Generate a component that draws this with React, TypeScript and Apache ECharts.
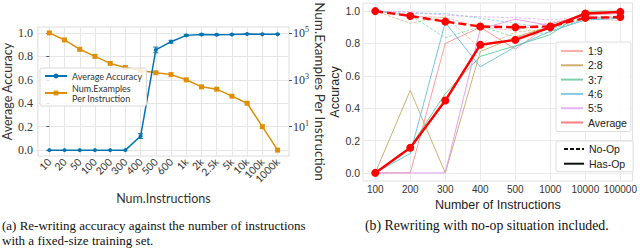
import React, { useEffect, useRef } from "react";
import * as echarts from "echarts";

// ---------- Panel (a) data ----------
const leftCategories = ["10", "20", "50", "100", "200", "300", "400", "500", "600", "1k", "2k", "2.5k", "5k", "10k", "100k", "1000k"];
const avgAccuracy = [0, 0, 0, 0, 0, 0, 0.12, 0.855, 0.925, 0.979, 0.987, 0.984, 0.987, 0.991, 0.989, 0.989];
const avgAccuracyErr = [0, 0, 0, 0, 0, 0, 0.02, 0.024, 0.012, 0.006, 0.004, 0.005, 0.003, 0.003, 0.002, 0.002];
const examplesPerInstruction = [100000, 50000, 20000, 10000, 5000, 3333, 2500, 2000, 1667, 1000, 500, 400, 200, 100, 10, 1];
const accTicks = [0, 0.2, 0.4, 0.6, 0.8, 1.0];
const logTicks = [10, 1000, 100000];

// ---------- Panel (b) data ----------
const rightCategories = ["100", "200", "300", "400", "500", "1000", "10000", "100000"];
const ratioNames = ["1:9", "2:8", "3:7", "4:6", "5:5"];
const hasOp19 = [0, 0, 0.8, 0.9, 0.765, 0.92, 0.975, 0.985];
const hasOp28 = [0, 0.51, 0, 0.75, 0.84, 0.905, 0.99, 0.995];
const hasOp37 = [0, 0.16, 0.49, 0.72, 0.785, 0.855, 1.0, 1.0];
const hasOp46 = [0, 0.12, 0.93, 0.655, 0.78, 0.875, 0.945, 0.955];
const hasOp55 = [0, 0, 0, 0.89, 0.95, 0.91, 0.98, 0.99];
const hasOpAverage = [0, 0.155, 0.447, 0.792, 0.822, 0.9, 0.985, 0.995];
const noOp19 = [1.0, 0.97, 0.96, 0.9, 0.88, 0.93, 0.96, 0.94];
const noOp28 = [1.0, 0.925, 0.965, 0.77, 0.87, 0.89, 0.96, 0.96];
const noOp37 = [1.0, 0.975, 0.835, 0.905, 0.84, 0.87, 0.955, 0.965];
const noOp46 = [1.0, 0.985, 0.985, 0.955, 0.925, 0.89, 0.945, 0.965];
const noOp55 = [1.0, 0.995, 0.975, 0.965, 0.96, 0.945, 0.965, 0.97];
const noOpAverage = [1.0, 0.97, 0.935, 0.905, 0.9, 0.905, 0.958, 0.963];

const ratioColors = ["#ff8c8c", "#c4a45c", "#5cc493", "#5cbcd8", "#dc92f2"];
const ratioLegendColors = ["rgba(255,120,120,0.6)", "rgba(190,155,70,0.8)", "rgba(70,190,135,0.7)", "rgba(80,180,215,0.7)", "rgba(215,130,240,0.6)"];

const BLUE = "#0173b2";
const ORANGE = "#de8f05";
const SERIF = "'Liberation Serif', 'DejaVu Serif', serif";
const SANS_A = "Lato, 'DejaVu Sans', sans-serif";
const SANS_B = "'Liberation Sans', Arial, sans-serif";

export default function App() {
  const ref = useRef<HTMLDivElement>(null);

  useEffect(() => {
    document.body.style.margin = "0";
    const chart = echarts.init(ref.current!, null, { renderer: "svg" });

    const hasOps = [hasOp19, hasOp28, hasOp37, hasOp46, hasOp55];
    const noOps = [noOp19, noOp28, noOp37, noOp46, noOp55];
    const toXY = (arr: number[]) => arr.map((v, i) => [i, v]);

    const series: any[] = [
      // legend-only handles for panel (b)
      ...ratioNames.map((n, i) => ({
        type: "line", name: n, xAxisIndex: 1, yAxisIndex: 2, data: [], symbol: "none",
        lineStyle: { color: ratioLegendColors[i], width: 2 }, itemStyle: { color: ratioLegendColors[i] },
      })),
      {
        type: "line", name: "Average", xAxisIndex: 1, yAxisIndex: 2, data: [], symbol: "none",
        lineStyle: { color: "rgba(255,60,60,0.65)", width: 2 }, itemStyle: { color: "rgba(255,60,60,0.65)" },
      },
      {
        type: "line", name: "No-Op", xAxisIndex: 1, yAxisIndex: 2, data: [], symbol: "none",
        lineStyle: { color: "#111", width: 1.6, type: [4, 2] }, itemStyle: { color: "#111" },
      },
      {
        type: "line", name: "Has-Op", xAxisIndex: 1, yAxisIndex: 2, data: [], symbol: "none",
        lineStyle: { color: "#111", width: 1.6 }, itemStyle: { color: "#111" },
      },
      // panel (a)
      {
        type: "line", name: "Num.Examples\nPer Instruction", xAxisIndex: 0, yAxisIndex: 1,
        data: toXY(examplesPerInstruction), symbol: "rect", symbolSize: 5,
        lineStyle: { color: ORANGE, width: 1.5 }, itemStyle: { color: ORANGE }, z: 2,
      },
      {
        type: "line", name: "Average Accuracy", xAxisIndex: 0, yAxisIndex: 0,
        data: toXY(avgAccuracy), symbol: "circle", symbolSize: 4,
        lineStyle: { color: BLUE, width: 1.5 }, itemStyle: { color: BLUE }, z: 3,
      },
      {
        type: "custom", xAxisIndex: 0, yAxisIndex: 0, z: 4, silent: true,
        data: avgAccuracy.map((v, i) => [i, v, avgAccuracyErr[i]]),
        renderItem: (_p: any, api: any) => {
          const x = api.value(0), y = api.value(1), e = api.value(2);
          if (!e) return null;
          const hi = api.coord([x, y + e]);
          const lo = api.coord([x, y - e]);
          const style = { stroke: BLUE, lineWidth: 1 };
          return {
            type: "group",
            children: [
              { type: "line", shape: { x1: hi[0], y1: hi[1], x2: lo[0], y2: lo[1] }, style },
              { type: "line", shape: { x1: hi[0] - 2.5, y1: hi[1], x2: hi[0] + 2.5, y2: hi[1] }, style },
              { type: "line", shape: { x1: lo[0] - 2.5, y1: lo[1], x2: lo[0] + 2.5, y2: lo[1] }, style },
            ],
          };
        },
      },
      // panel (b) real lines
      ...ratioNames.map((n, i) => ({
        type: "line", name: n + " No-Op", xAxisIndex: 1, yAxisIndex: 2, data: toXY(noOps[i]), symbol: "none",
        lineStyle: { color: ratioColors[i], width: 1, type: [3, 1.5], opacity: 0.6 }, z: 2,
      })),
      ...ratioNames.map((n, i) => ({
        type: "line", name: n + " Has-Op", xAxisIndex: 1, yAxisIndex: 2, data: toXY(hasOps[i]), symbol: "none",
        lineStyle: { color: ratioColors[i], width: 1, opacity: 0.85 }, z: 2,
      })),
      {
        type: "line", name: "Average No-Op", xAxisIndex: 1, yAxisIndex: 2, data: toXY(noOpAverage),
        symbol: "circle", symbolSize: 8, lineStyle: { color: "#ff0000", width: 2.4, type: [8, 4] },
        itemStyle: { color: "#ff0000" }, z: 5,
      },
      {
        type: "line", name: "Average Has-Op", xAxisIndex: 1, yAxisIndex: 2, data: toXY(hasOpAverage),
        symbol: "circle", symbolSize: 8, lineStyle: { color: "#ff0000", width: 2.4 },
        itemStyle: { color: "#ff0000" }, z: 6,
      },
    ];

    const option: any = {
      animation: false,
      backgroundColor: "#ffffff",
      grid: [
        { left: 36, top: 4, width: 253, height: 152, show: true, borderColor: "#dcdcdc", borderWidth: 1, backgroundColor: "transparent" },
        { left: 363, top: 3, width: 271, height: 178, show: true, borderColor: "#e0e0e0", borderWidth: 1, backgroundColor: "transparent" },
      ],
      xAxis: [
        {
          type: "value", gridIndex: 0, min: -0.75, max: 15.75,
          name: "Num.Instructions", nameLocation: "middle", nameGap: 36,
          nameTextStyle: { fontFamily: SANS_A, fontSize: 12.5, color: "#333" },
          axisLine: { show: false },
          axisTick: { show: false, customValues: leftCategories.map((_, i) => i) },
          axisLabel: {
            customValues: leftCategories.map((_, i) => i),
            formatter: (v: number) => leftCategories[Math.round(v)] ?? "",
            showMinLabel: true, showMaxLabel: true, hideOverlap: false,
            rotate: 45, margin: 4, fontFamily: SANS_A, fontSize: 10.3, color: "#333",
          },
          splitLine: { show: true, lineStyle: { color: "#e6e6e6", width: 1 } },
        },
        {
          type: "value", gridIndex: 1, min: -0.35, max: 7.35,
          name: "Number of Instructions", nameLocation: "middle", nameGap: 12,
          nameTextStyle: { fontFamily: SANS_B, fontSize: 12.5, color: "#222" },
          axisLine: { show: false },
          axisTick: { show: false, customValues: rightCategories.map((_, i) => i) },
          axisLabel: {
            customValues: rightCategories.map((_, i) => i),
            formatter: (v: number) => rightCategories[Math.round(v)] ?? "",
            showMinLabel: true, showMaxLabel: true, hideOverlap: false,
            margin: 3, fontFamily: SANS_B, fontSize: 10, color: "#333",
          },
          splitLine: { show: true, lineStyle: { color: "#ebebeb", width: 1 } },
        },
      ],
      yAxis: [
        {
          type: "value", gridIndex: 0, min: -0.05, max: 1.05,
          name: "Average Accuracy", nameLocation: "middle", nameGap: 22,
          nameTextStyle: { fontFamily: SANS_A, fontSize: 12.5, color: "#333" },
          axisLine: { show: false },
          axisTick: { show: true, length: 3, customValues: accTicks, lineStyle: { color: "#555" } },
          axisLabel: { customValues: accTicks, showMinLabel: true, showMaxLabel: true, formatter: (v: number) => v.toFixed(1), margin: 5, fontFamily: SERIF, fontSize: 12, color: "#333" },
          splitLine: { show: true, lineStyle: { color: "#e6e6e6", width: 1 } },
        },
        {
          type: "log", gridIndex: 0, position: "right", logBase: 10, min: Math.pow(10, -0.25), max: Math.pow(10, 5.25),
          name: "Num.Examples Per Instruction", nameLocation: "middle", nameGap: 22, nameRotate: -90,
          nameTextStyle: { fontFamily: SANS_A, fontSize: 13.5, color: "#333" },
          axisLine: { show: false },
          axisTick: { show: true, length: 3, customValues: logTicks, lineStyle: { color: "#555" } },
          axisLabel: {
            customValues: logTicks, showMinLabel: true, showMaxLabel: true,
            formatter: (v: number) => "10{s|" + Math.round(Math.log10(v)) + "}",
            margin: 4, fontFamily: SERIF, fontSize: 12, color: "#333",
            rich: { s: { fontFamily: SERIF, fontSize: 8, color: "#333", padding: [0, 0, 7, 0] } },
          },
          splitLine: { show: false },
          minorTick: { show: false },
        },
        {
          type: "value", gridIndex: 1, min: -0.05, max: 1.05,
          name: "Accuracy", nameLocation: "middle", nameGap: 17,
          nameTextStyle: { fontFamily: SANS_B, fontSize: 12.5, color: "#222" },
          axisLine: { show: false },
          axisTick: { show: false, customValues: accTicks },
          axisLabel: { customValues: accTicks, showMinLabel: true, showMaxLabel: true, formatter: (v: number) => v.toFixed(1), margin: 3, fontFamily: SANS_B, fontSize: 10.5, color: "#333" },
          splitLine: { show: true, lineStyle: { color: "#ebebeb", width: 1 } },
        },
      ],
      legend: [
        {
          left: 40, top: 68, orient: "vertical", itemWidth: 22, itemHeight: 6, itemGap: 2,
          padding: [3, 4, 3, 4], borderColor: "#d9d9d9", borderWidth: 1, borderRadius: 2,
          backgroundColor: "rgba(255,255,255,0.85)", selectedMode: false,
          textStyle: { fontFamily: SANS_A, fontSize: 9, color: "#333", lineHeight: 10 },
          data: ["Average Accuracy", "Num.Examples\nPer Instruction"],
        },
        {
          left: 556, top: 42, orient: "vertical", itemWidth: 22, itemHeight: 8, itemGap: 2.3,
          padding: [3, 4, 3, 4], borderColor: "#dedede", borderWidth: 1, borderRadius: 2,
          backgroundColor: "rgba(255,255,255,0.9)", selectedMode: false,
          itemStyle: { opacity: 0, borderWidth: 0 },
          textStyle: { fontFamily: SANS_B, fontSize: 10.5, color: "#222", lineHeight: 12 },
          data: [...ratioNames, "Average"],
        },
        {
          left: 556, top: 141, orient: "vertical", itemWidth: 20, itemHeight: 8, itemGap: 2.7,
          padding: [2, 8, 2, 7], borderColor: "#dedede", borderWidth: 1, borderRadius: 2,
          backgroundColor: "rgba(255,255,255,0.9)", selectedMode: false,
          itemStyle: { opacity: 0, borderWidth: 0 },
          textStyle: { fontFamily: SANS_B, fontSize: 10.5, color: "#222", lineHeight: 12 },
          data: ["No-Op", "Has-Op"],
        },
      ],
      graphic: [
        { type: "text", left: 2, top: 218.5, style: { text: "(a) Re-writing accuracy against the number of instructions", font: "13px 'Liberation Serif'", fill: "#111" } },
        { type: "text", left: 2, top: 233.5, style: { text: "with a fixed-size training set.", font: "13px 'Liberation Serif'", fill: "#111" } },
        { type: "text", left: 365, top: 218, style: { text: "(b) Rewriting with no-op situation included.", font: "13.8px 'Liberation Serif'", fill: "#111" } },
      ],
      series,
    };

    chart.setOption(option);
    return () => chart.dispose();
  }, []);

  return <div ref={ref} style={{ width: 640, height: 249 }} />;
}
